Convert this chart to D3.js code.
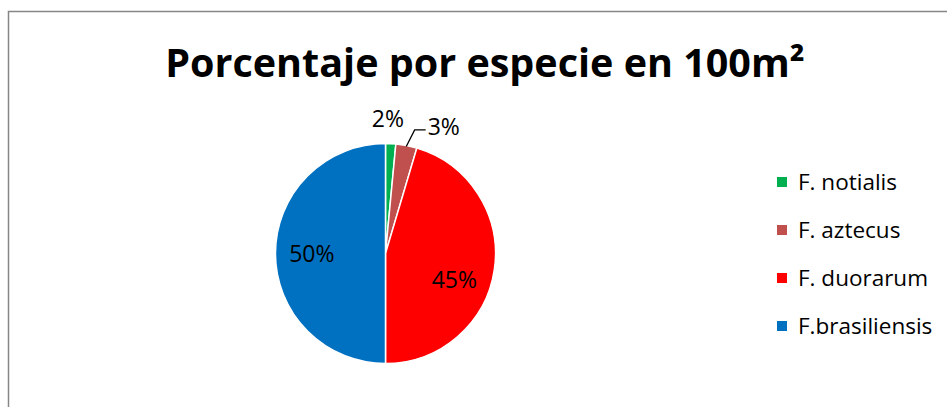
<!DOCTYPE html>
<html>
<head>
<meta charset="utf-8">
<script src="https://cdn.jsdelivr.net/npm/d3@7"></script>
<style>
  html, body { margin: 0; padding: 0; background: #fff; }
  svg { display: block; }
</style>
</head>
<body>
<svg id="chart" width="947" height="407"></svg>
<script>
// data
const species = ["F. notialis", "F. aztecus", "F. duorarum", "F.brasiliensis"];
const shares = [1.5, 3.1, 45.4, 50.0];
const shareLabels = ["2%", "3%", "45%", "50%"];
const sliceColors = ["#00b050", "#c0504d", "#ff0000", "#0070c0"];

const title = "Porcentaje por especie en 100m\u00b2";

const width = 947, height = 407;
const font = "'Open Sans', 'DejaVu Sans', sans-serif";

const svg = d3.select("#chart");

// chart area border (right and bottom run off the picture)
svg.append("rect")
  .attr("x", 8.5).attr("y", 11.5)
  .attr("width", 980).attr("height", 430)
  .attr("fill", "#fff")
  .attr("stroke", "#868686")
  .attr("stroke-width", 1.5);

svg.append("text")
  .attr("x", 485)
  .attr("y", 77)
  .attr("text-anchor", "middle")
  .attr("font-family", font)
  .attr("font-weight", 700)
  .attr("font-size", 39.5)
  .attr("fill", "#000")
  .text(title);

const color = d3.scaleOrdinal().domain(species).range(sliceColors);

const data = species.map((name, i) => ({ name, value: shares[i], label: shareLabels[i] }));

const cx = 385.5, cy = 253.5, r = 110;
const pie = d3.pie().sort(null).value(d => d.value);
const arcs = pie(data);
const arc = d3.arc().innerRadius(0).outerRadius(r);

const g = svg.append("g").attr("transform", `translate(${cx},${cy})`);

g.selectAll("path.slice")
  .data(arcs)
  .join("path")
  .attr("class", "slice")
  .attr("d", arc)
  .attr("fill", d => color(d.data.name))
  .attr("stroke", "#fff")
  .attr("stroke-width", 1.5);

// point on a circle at angle a (0 = 12 o'clock, clockwise)
const polar = (a, rad) => [Math.sin(a) * rad, -Math.cos(a) * rad];
const midAngle = d => (d.startAngle + d.endAngle) / 2;

// big slices: labels inside; red label sits lower than its centroid in the reference
const insideShift = { "F. duorarum": 0.22, "F.brasiliensis": 0 };
const labelFont = 23;

arcs.forEach(d => {
  const pct = d.endAngle - d.startAngle;
  const a = midAngle(d);
  if (pct > 0.5) {
    const [x, y] = polar(a + (insideShift[d.data.name] || 0), r * 0.67);
    g.append("text")
      .attr("x", x).attr("y", y)
      .attr("text-anchor", "middle")
      .attr("dy", "0.36em")
      .attr("font-family", font)
      .attr("font-size", labelFont)
      .attr("fill", "#000")
      .text(d.data.label);
  } else if (d.index === 0) {
    const [x, y] = polar(a, r + 25);
    g.append("text")
      .attr("x", x - 4).attr("y", y)
      .attr("text-anchor", "middle")
      .attr("dy", "0.36em")
      .attr("font-family", font)
      .attr("font-size", labelFont)
      .attr("fill", "#000")
      .text(d.data.label);
  } else {
    const p0 = polar(a, r - 1);
    const p1 = polar(a + 0.04, r + 17);
    const p2 = [p1[0] + 11, p1[1]];
    g.append("polyline")
      .attr("points", [p0, p1, p2].map(p => p.join(",")).join(" "))
      .attr("fill", "none")
      .attr("stroke", "#000")
      .attr("stroke-width", 1.3);
    g.append("text")
      .attr("x", p2[0] + 2).attr("y", p2[1])
      .attr("text-anchor", "start")
      .attr("dy", "0.2em")
      .attr("font-family", font)
      .attr("font-size", labelFont)
      .attr("fill", "#000")
      .text(d.data.label);
  }
});

// legend
const legendY = d3.scalePoint().domain(species).range([182, 326]);
const legend = svg.append("g").attr("transform", "translate(777,0)");

const items = legend.selectAll("g.legend-item")
  .data(species)
  .join("g")
  .attr("class", "legend-item")
  .attr("transform", d => `translate(0,${legendY(d)})`);

items.append("rect")
  .attr("x", 0).attr("y", -5)
  .attr("width", 10).attr("height", 10)
  .attr("fill", d => color(d));

items.append("text")
  .attr("x", 21)
  .attr("y", 7.5)
  .attr("font-family", font)
  .attr("font-size", 22.5)
  .attr("fill", "#000")
  .text(d => d);
</script>
</body>
</html>
